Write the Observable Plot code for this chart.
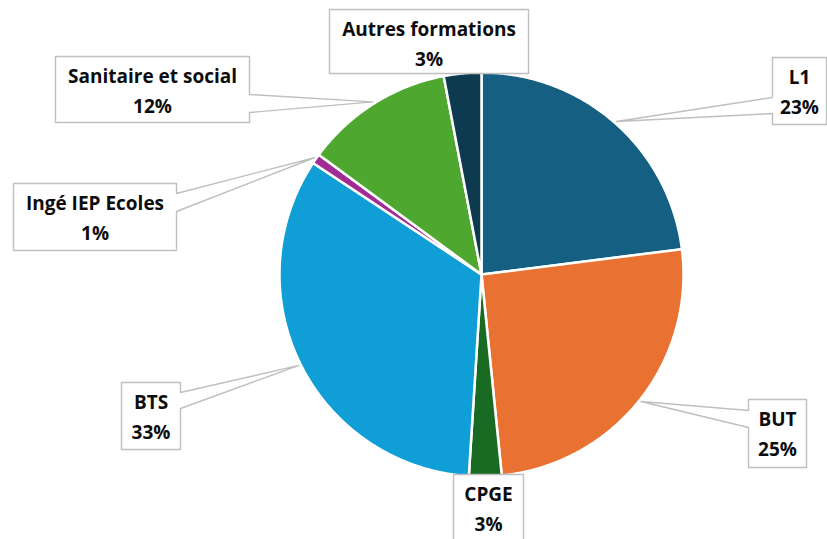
<!DOCTYPE html>
<html>
<head>
<meta charset="utf-8">
<script src="https://cdn.jsdelivr.net/npm/d3@7"></script>
<script src="https://cdn.jsdelivr.net/npm/@observablehq/plot@0.6"></script>
<style>
  html, body { margin: 0; padding: 0; background: #fff; }
  #chart svg { display: block; overflow: visible; }
</style>
</head>
<body>
<div id="chart"></div>
<script>
// ---- data ----
const categories = ["L1", "BUT", "CPGE", "BTS", "Ingé IEP Ecoles", "Sanitaire et social", "Autres formations"];
const shares = [23.0, 25.4, 2.6, 33.3, 0.8, 11.9, 3.0];
const colors = ["#156082", "#e97132", "#196b24", "#0f9ed5", "#a02b93", "#4ea72e", "#0e3a50"];

// ---- layout (pixels) ----
const W = 827, H = 539;
const center = [481, 274];
const radius = 202;
// label boxes [x0, y0, x1, y1] and pointer base on a box side
const boxes = [
  {rect: [772, 57, 826, 124], side: "left",  base: [97, 113]},
  {rect: [748, 399, 806, 467], side: "left", base: [410, 427]},
  {rect: [453, 474, 523, 540], side: null},
  {rect: [121, 382, 180, 449], side: "right", base: [392, 408]},
  {rect: [13, 183, 176, 250], side: "right", base: [193, 211]},
  {rect: [55, 56, 249, 122], side: "right", base: [94, 112]},
  {rect: [329, 9, 528, 73], side: null}
];

const total = d3.sum(shares);
let cum = 0;
const slices = categories.map((name, i) => {
  const a0 = cum / total * 2 * Math.PI;
  cum += shares[i];
  const a1 = cum / total * 2 * Math.PI;
  return {name, share: shares[i], color: colors[i], a0, a1, mid: (a0 + a1) / 2};
});

const pt = (a, r) => ({x: center[0] + r * Math.sin(a), y: center[1] - r * Math.cos(a)});

// slice polygons
const slicePts = [];
for (const s of slices) {
  slicePts.push({name: s.name, color: s.color, ...pt(0, 0)});
  const n = Math.max(2, Math.ceil((s.a1 - s.a0) / (Math.PI / 360)));
  for (let k = 0; k <= n; k++) {
    const a = s.a0 + (s.a1 - s.a0) * k / n;
    slicePts.push({name: s.name, color: s.color, ...pt(a, radius)});
  }
  slicePts.push({name: s.name, color: s.color, ...pt(0, 0)});
}

// callout polygons
const calloutPts = [];
const labels = [];
slices.forEach((s, i) => {
  const b = boxes[i];
  const [x0, y0, x1, y1] = b.rect;
  const tip = pt(s.mid, radius + 2);
  let poly = [[x0, y0], [x1, y0]];
  if (b.side === "right") {
    poly.push([x1, b.base[0]], [tip.x, tip.y], [x1, b.base[1]]);
  }
  poly.push([x1, y1], [x0, y1]);
  if (b.side === "left") {
    poly.push([x0, b.base[1]], [tip.x, tip.y], [x0, b.base[0]]);
  }
  poly.push([x0, y0]);
  poly.forEach(([x, y]) => calloutPts.push({name: s.name, x, y}));
  labels.push({
    x: (x0 + x1) / 2,
    y: y0 + 5,
    text: s.name + "\n" + Math.round(s.share / total * 100) + "%"
  });
});

const chart = Plot.plot({
  width: W,
  height: H,
  margin: 0,
  x: {domain: [0, W], range: [0, W], axis: null},
  y: {domain: [0, H], range: [0, H], axis: null},
  color: {type: "identity"},
  style: {background: "#fff"},
  marks: [
    Plot.line(slicePts, {x: "x", y: "y", z: "name", fill: "color", stroke: "white", strokeWidth: 2.5, strokeLinejoin: "round", curve: "linear"}),
    Plot.line(calloutPts, {x: "x", y: "y", z: "name", fill: "white", stroke: "#bfbfbf", strokeWidth: 1.4, curve: "linear"}),
    Plot.text(labels, {x: "x", y: "y", text: "text", lineAnchor: "top", lineHeight: 1.58, fontSize: 19, fontWeight: "bold", fontFamily: "'Open Sans', sans-serif", fill: "#0d0d0d"})
  ]
});
document.getElementById("chart").appendChild(chart);
</script>
</body>
</html>
